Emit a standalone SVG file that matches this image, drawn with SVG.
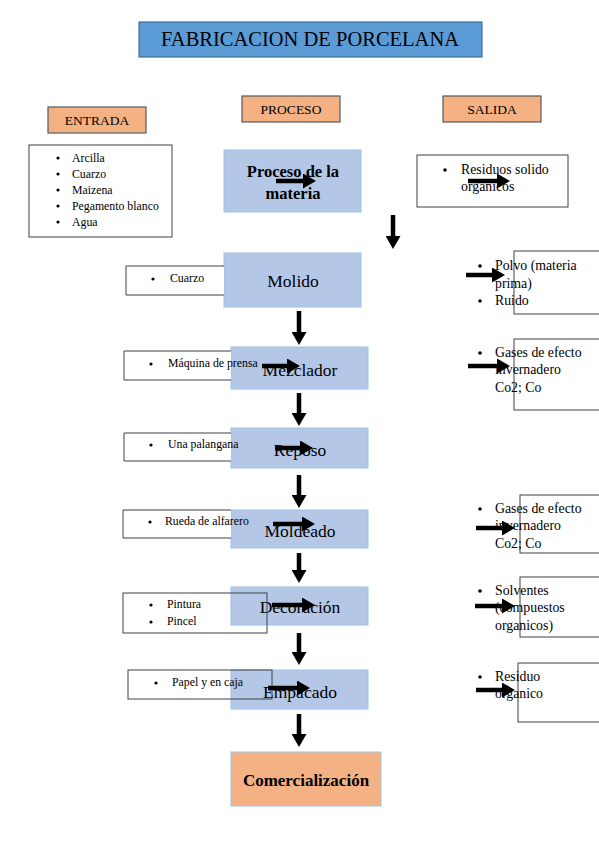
<svg xmlns="http://www.w3.org/2000/svg" width="599" height="848" viewBox="0 0 599 848">
<style>
text{font-family:"Liberation Serif","Times New Roman",serif;fill:#000}
.title{fill:#5b9bd5;stroke:#41719c;stroke-width:1.2}
.hdr{fill:#f4b183;stroke:#595959;stroke-width:1.2}
.proc{fill:#b4c7e7;stroke:#9dc3e6;stroke-width:1}
.com{fill:#f4b183;stroke:#9dc3e6;stroke-width:1}
.lst{fill:#fff;stroke:#404040;stroke-width:1}
.lstT{fill:none;stroke:#404040;stroke-width:1}
.ht{font-size:13.5px;text-anchor:middle}
.pt{font-size:17.5px;text-anchor:middle}
.st{font-size:11.8px}
.ot{font-size:13.8px}
.arr{stroke:#000;stroke-width:4.5;fill:none;marker-end:url(#ah)}
</style>
<defs>
<marker id="ah" markerUnits="userSpaceOnUse" markerWidth="14" markerHeight="15" refX="0" refY="7.5" orient="auto" viewBox="0 0 14 15">
<path d="M0,0 L13,7.5 L0,15 Z" fill="#000"/>
</marker>
</defs>

<g id="titulo">
<rect class="title" x="139" y="22" width="343" height="35"/>
<text x="310" y="46" style="font-size:20.5px;text-anchor:middle">FABRICACION DE PORCELANA</text>
</g>
<g id="entrada">
<rect class="hdr" x="48" y="107" width="98" height="26"/>
<text class="ht" x="97" y="125">ENTRADA</text>
</g>
<g id="proceso">
<rect class="hdr" x="242" y="96" width="98" height="26"/>
<text class="ht" x="291" y="114">PROCESO</text>
</g>
<g id="salida">
<rect class="hdr" x="443" y="96" width="98" height="26"/>
<text class="ht" x="492" y="114">SALIDA</text>
</g>

<g id="entrada-lista">
<rect class="lst" x="29" y="145" width="143" height="92"/>
<g class="st">
<circle cx="58" cy="158" r="1.6"/><text x="72" y="162">Arcilla</text>
<circle cx="58" cy="174" r="1.6"/><text x="72" y="178">Cuarzo</text>
<circle cx="58" cy="190" r="1.6"/><text x="72" y="194">Maizena</text>
<circle cx="58" cy="206" r="1.6"/><text x="72" y="210">Pegamento blanco</text>
<circle cx="58" cy="222" r="1.6"/><text x="72" y="226">Agua</text>
</g>
</g>

<g id="proceso-materia">
<rect class="proc" x="224" y="150" width="137" height="62"/>
<text class="pt" x="293" y="177" font-weight="bold" style="font-size:16.5px">Proceso de la</text>
<text class="pt" x="293" y="199" font-weight="bold" style="font-size:16.5px">materia</text>
</g>

<g id="salida-residuos">
<rect class="lst" x="417" y="155" width="151" height="52"/>
<circle cx="445" cy="170" r="1.8"/>
<text class="ot" x="461" y="174">Residuos solido</text>
<text class="ot" x="461" y="191">organicos</text>
</g>

<g id="molido">
<rect class="proc" x="224" y="253" width="137" height="54"/>
<text class="pt" x="293" y="287">Molido</text>
</g>
<g id="entrada-cuarzo">
<path class="lst" d="M224,266 H126 V295 H224"/>
<circle cx="153" cy="279" r="1.6"/>
<text class="st" x="170" y="282">Cuarzo</text>
</g>
<g id="salida-polvo">
<rect class="lstT" x="514" y="251" width="90" height="63"/>
<circle cx="480" cy="266" r="1.8"/>
<text class="ot" x="495" y="270">Polvo (materia</text>
<text class="ot" x="495" y="288">prima)</text>
<circle cx="480" cy="301" r="1.8"/>
<text class="ot" x="495" y="305">Ruido</text>
</g>

<g id="mezclador">
<rect class="proc" x="231" y="347" width="137" height="42"/>
<text class="pt" x="300" y="376">Mezclador</text>
</g>
<g id="entrada-prensa">
<path class="lst" d="M231,351 H124 V380 H231"/>
<circle cx="151" cy="364" r="1.6"/>
<text class="st" x="168" y="367">Máquina de prensa</text>
</g>
<g id="salida-gases1">
<rect class="lstT" x="514" y="339" width="90" height="71"/>
<circle cx="480" cy="353" r="1.8"/>
<text class="ot" x="495" y="357">Gases de efecto</text>
<text class="ot" x="495" y="374">invernadero</text>
<text class="ot" x="495" y="392">Co2; Co</text>
</g>

<g id="reposo">
<rect class="proc" x="231" y="428" width="137" height="40"/>
<text class="pt" x="300" y="456">Reposo</text>
</g>
<g id="entrada-palangana">
<path class="lst" d="M231,433 H124 V461 H231"/>
<circle cx="151" cy="445" r="1.6"/>
<text class="st" x="168" y="448">Una palangana</text>
</g>

<g id="moldeado">
<rect class="proc" x="231" y="510" width="137" height="38"/>
<text class="pt" x="300" y="537">Moldeado</text>
</g>
<g id="entrada-rueda">
<path class="lst" d="M231,510 H123 V538 H231"/>
<circle cx="150" cy="522" r="1.6"/>
<text class="st" x="165" y="525">Rueda de alfarero</text>
</g>
<g id="salida-gases2">
<rect class="lstT" x="520" y="495" width="84" height="58"/>
<circle cx="480" cy="509" r="1.8"/>
<text class="ot" x="495" y="513">Gases de efecto</text>
<text class="ot" x="495" y="530">invernadero</text>
<text class="ot" x="495" y="548">Co2; Co</text>
</g>

<g id="decoracion">
<rect class="proc" x="231" y="587" width="137" height="38"/>
<text class="pt" x="300" y="613">Decoración</text>
</g>
<g id="entrada-pintura">
<rect class="lstT" x="123" y="593" width="144" height="40"/>
<circle cx="151" cy="605" r="1.6"/>
<text class="st" x="167" y="608">Pintura</text>
<circle cx="151" cy="622" r="1.6"/>
<text class="st" x="167" y="625">Pincel</text>
</g>
<g id="salida-solventes">
<rect class="lstT" x="520" y="577" width="84" height="60"/>
<circle cx="480" cy="591" r="1.8"/>
<text class="ot" x="495" y="595">Solventes</text>
<text class="ot" x="495" y="612">(compuestos</text>
<text class="ot" x="495" y="630">organicos)</text>
</g>

<g id="empacado">
<rect class="proc" x="231" y="670" width="137" height="39"/>
<text class="pt" x="300" y="698">Empacado</text>
</g>
<g id="entrada-papel">
<rect class="lstT" x="128" y="670" width="144" height="29"/>
<circle cx="156" cy="683" r="1.6"/>
<text class="st" x="172" y="686">Papel y en caja</text>
</g>
<g id="salida-residuo">
<rect class="lstT" x="518" y="663" width="86" height="59"/>
<circle cx="480" cy="677" r="1.8"/>
<text class="ot" x="495" y="681">Residuo</text>
<text class="ot" x="495" y="698">organico</text>
</g>

<g id="comercializacion">
<rect class="com" x="231" y="752" width="150" height="54"/>
<text class="pt" x="306" y="786" font-weight="bold" style="font-size:17px">Comercialización</text>
</g>

<g id="conectores">
<line class="arr" x1="393" y1="215" x2="393" y2="236"/>
<line class="arr" x1="299" y1="311" x2="299" y2="332"/>
<line class="arr" x1="299" y1="393" x2="299" y2="413"/>
<line class="arr" x1="299" y1="475" x2="299" y2="495"/>
<line class="arr" x1="299" y1="553" x2="299" y2="570"/>
<line class="arr" x1="299" y1="633" x2="299" y2="652"/>
<line class="arr" x1="299" y1="714" x2="299" y2="734"/>
<line class="arr" x1="276" y1="181" x2="303" y2="181"/>
<line class="arr" x1="468" y1="181" x2="497" y2="181"/>
<line class="arr" x1="466" y1="275" x2="492" y2="275"/>
<line class="arr" x1="262" y1="366" x2="287" y2="366"/>
<line class="arr" x1="468" y1="366" x2="497" y2="366"/>
<line class="arr" x1="275" y1="448" x2="300" y2="448"/>
<line class="arr" x1="273" y1="524" x2="302" y2="524"/>
<line class="arr" x1="476" y1="528" x2="502" y2="528"/>
<line class="arr" x1="272" y1="605" x2="302" y2="605"/>
<line class="arr" x1="475" y1="606" x2="502" y2="606"/>
<line class="arr" x1="268" y1="688" x2="297" y2="688"/>
<line class="arr" x1="476" y1="690" x2="502" y2="690"/>
</g>
</svg>
